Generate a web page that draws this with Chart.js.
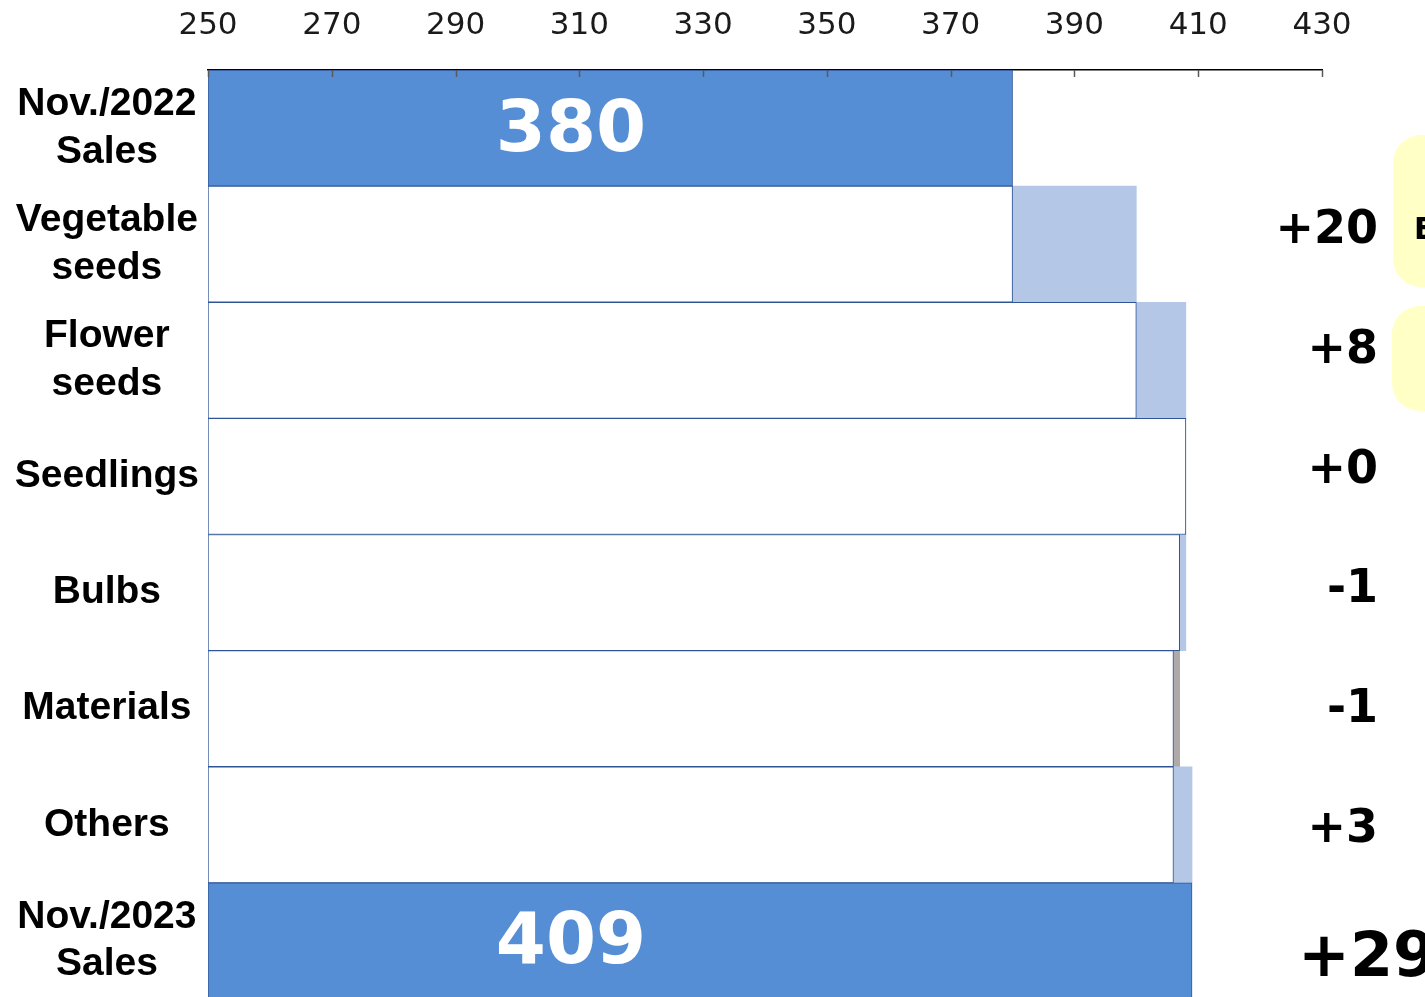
<!DOCTYPE html>
<html>
<head>
<meta charset="utf-8">
<script src="https://cdn.jsdelivr.net/npm/chart.js"></script>
<style>
  html, body { margin: 0; padding: 0; background: #fff; overflow: hidden; }
  canvas { display: block; }
</style>
</head>
<body>
<canvas id="bridge" width="1425" height="1000"></canvas>
<script>
// sales bridge, Nov. 2022 -> Nov. 2023
const categories = [
    ['Nov./2022', 'Sales'],
    ['Vegetable', 'seeds'],
    ['Flower', 'seeds'],
    'Seedlings',
    'Bulbs',
    'Materials',
    'Others',
    ['Nov./2023', 'Sales']
];
const startTotal = 380;
const endTotal = 409;
const changes = [20, 8, 0, -1, -1, 3];
const axisTicks = [250, 270, 290, 310, 330, 350, 370, 390, 410, 430];

const BLUE = '#558ed5';
const EDGE = '#2f5597';
const LIGHT = '#b4c7e7';
const GREY = '#aeaaaa';

// white base bars run from the axis start up to the lower end of each step
const baseBars = [[axisTicks[0], startTotal]];
const stepBars = [null];
let level = startTotal;
changes.forEach(c => {
    const lo = Math.min(level, level + c);
    const hi = Math.max(level, level + c);
    baseBars.push([axisTicks[0], lo]);
    stepBars.push([lo, hi]);
    level += c;
});
baseBars.push([axisTicks[0], endTotal]);
stepBars.push(null);

const isTotal = i => i === 0 || i === categories.length - 1;
const sign = v => (v >= 0 ? '+' : '-') + Math.abs(v);

const overlay = {
    id: 'overlay',
    afterDatasetsDraw(chart) {
        const { ctx, chartArea, scales: { x, y } } = chart;
        ctx.save();

        // tick marks point down into the plot
        ctx.strokeStyle = '#595959';
        ctx.lineWidth = 1.5;
        axisTicks.forEach(v => {
            const px = Math.round(x.getPixelForValue(v)) + 0.5;
            ctx.beginPath();
            ctx.moveTo(px, chartArea.top);
            ctx.lineTo(px, chartArea.top + 7);
            ctx.stroke();
        });

        // totals written inside the blue bars
        ctx.fillStyle = '#fff';
        ctx.font = 'bold 72px "DejaVu Sans"';
        ctx.textAlign = 'center';
        ctx.textBaseline = 'middle';
        ctx.fillText(String(startTotal), chartArea.left + 363, y.getPixelForValue(0) + 4);
        ctx.fillText(String(endTotal), chartArea.left + 363, y.getPixelForValue(categories.length - 1) + 3);

        // notes on the right edge
        ctx.fillStyle = '#ffffc6';
        ctx.beginPath();
        ctx.roundRect(chartArea.right + 71, 135, 120, 152, 28);
        ctx.fill();
        ctx.beginPath();
        ctx.roundRect(chartArea.right + 70, 306, 120, 105, 28);
        ctx.fill();
        ctx.fillStyle = '#000';
        ctx.font = 'bold 30px "DejaVu Sans"';
        ctx.textAlign = 'left';
        ctx.fillText('E', chartArea.right + 92, 231);

        // change per category
        ctx.font = 'bold 46px "DejaVu Sans"';
        ctx.textAlign = 'right';
        changes.forEach((c, i) => {
            ctx.fillText(sign(c), chartArea.right + 56, y.getPixelForValue(i + 1) - 13 + i * 3.6);
        });
        ctx.font = 'bold 62px "DejaVu Sans"';
        ctx.textAlign = 'left';
        ctx.fillText(sign(endTotal - startTotal), chartArea.right - 24,
            y.getPixelForValue(categories.length - 1) + 19);

        ctx.restore();
    }
};

new Chart(document.getElementById('bridge'), {
    type: 'bar',
    data: {
        labels: categories,
        datasets: [{
            label: 'base',
            data: baseBars,
            grouped: false,
            backgroundColor: ctx => isTotal(ctx.dataIndex) ? BLUE : '#fff',
            borderColor: EDGE,
            borderWidth: 1,
            borderSkipped: false,
            categoryPercentage: 1,
            barPercentage: 1
        }, {
            label: 'change',
            data: stepBars,
            grouped: false,
            backgroundColor: ctx => categories[ctx.dataIndex] === 'Materials' ? GREY : LIGHT,
            borderWidth: 0,
            categoryPercentage: 1,
            barPercentage: 1
        }]
    },
    options: {
        indexAxis: 'y',
        responsive: false,
        animation: false,
        layout: { padding: { top: 0, right: 103, bottom: 1, left: 0 } },
        plugins: {
            legend: { display: false },
            tooltip: { enabled: false }
        },
        scales: {
            x: {
                type: 'linear',
                position: 'top',
                min: axisTicks[0],
                max: axisTicks[axisTicks.length - 1],
                afterBuildTicks: s => { s.ticks = axisTicks.map(v => ({ value: v })); },
                afterFit: s => { s.height = 70; },
                ticks: {
                    color: '#1a1a1a',
                    padding: 25,
                    font: { family: '"DejaVu Sans"', size: 31 }
                },
                grid: { drawOnChartArea: false, drawTicks: false },
                border: { display: true, color: '#000', width: 1.5 }
            },
            y: {
                afterFit: s => {
                    s.width = 208;
                    s.paddingTop = 0;
                    s.paddingBottom = 0;
                },
                ticks: {
                    color: '#000',
                    crossAlign: 'center',
                    padding: 1,
                    font: { family: '"Liberation Sans", Arial', size: 39, weight: 'bold', lineHeight: 1.22 }
                },
                grid: { display: false },
                border: { display: false }
            }
        }
    },
    plugins: [overlay]
});
</script>
</body>
</html>
